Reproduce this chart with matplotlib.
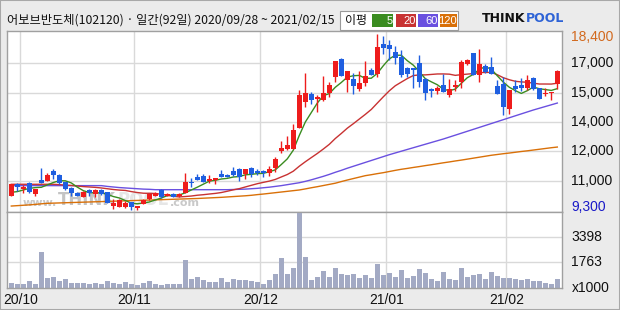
import numpy as np
import pandas as pd
import matplotlib
matplotlib.use('Agg')
import matplotlib.pyplot as plt
from matplotlib.patches import Rectangle
import matplotlib.transforms as mtransforms
import logging
logging.getLogger('matplotlib.font_manager').setLevel(logging.ERROR)

# ---------------- data ----------------
title = '어보브반도체(102120) · 일간(92일) 2020/09/28 ~ 2021/02/15'
krx_holidays = ['2020-09-30', '2020-10-01', '2020-10-02', '2020-10-09', '2020-12-25',
                '2020-12-31', '2021-01-01', '2021-02-11', '2021-02-12']
dates = [d for d in pd.bdate_range('2020-09-28', '2021-02-15')
         if d.strftime('%Y-%m-%d') not in krx_holidays]

opens = [10040, 10630, 10370, 10680, 10128, 10852, 10816, 11317, 11110, 10764,
         10455, 10195, 9990, 10335, 10128, 10335, 10216, 9524, 9472, 9472,
         9700, 9390, 9596, 9870, 10040, 10335, 10025, 10128, 10025, 10164,
         10764, 11022, 11074, 10800, 10852, 11145, 11126, 11333, 11405, 11145,
         11488, 11317, 11333, 11230, 11488, 12367, 12455, 12455, 13525, 14900,
         15298, 15055, 14988, 15365, 16192, 17090, 16022, 16074, 15557, 15851,
         16539, 16316, 17883, 17831, 17470, 17211, 16627, 16627, 16885, 16089,
         15541, 15453, 15763, 15246, 15660, 15934, 16865, 17402, 16265, 16746,
         16694, 15712, 15831, 14507, 15712, 15763, 15624, 16141, 15593, 15282,
         15350, 15800]
highs = [10630, 10710, 10593, 10764, 10387, 11488, 11229, 11420, 11177, 10764,
         10506, 10250, 10283, 10387, 10387, 10387, 10250, 9854, 9870, 9750,
         9700, 9524, 9870, 10164, 10250, 10387, 10164, 10164, 10164, 11198,
         10940, 11162, 11160, 11110, 10971, 11369, 11177, 11540, 11457, 11420,
         11540, 11420, 11370, 11576, 12057, 12868, 13127, 13731, 15505, 16399,
         15417, 15246, 16229, 15934, 17004, 17175, 16487, 16368, 16487, 17004,
         16658, 18400, 18312, 18090, 17800, 17573, 16694, 16660, 17314, 16120,
         15593, 15712, 16347, 16058, 16006, 17040, 17092, 17433, 17609, 16865,
         17211, 16022, 16177, 15505, 16022, 16110, 16280, 16192, 15593, 15593,
         15400, 16539]
lows = [10040, 10300, 10195, 10195, 10040, 10713, 10816, 10904, 10645, 10335,
        10040, 10040, 9990, 10040, 9955, 10075, 9647, 9353, 9472, 9390,
        9300, 9300, 9596, 9818, 10040, 9904, 10025, 9990, 9990, 10164,
        10506, 10852, 10764, 10713, 10645, 11022, 10990, 11074, 10816, 10904,
        11022, 11130, 10990, 11074, 11281, 12263, 12400, 12455, 13525, 14641,
        14781, 14383, 14950, 15158, 15934, 16229, 15417, 15282, 15453, 15712,
        16280, 16192, 17366, 17056, 16870, 16192, 16177, 15623, 15675, 14988,
        15143, 15282, 15401, 15158, 15453, 15593, 16782, 16265, 15934, 16368,
        16347, 15282, 14212, 14249, 15401, 15453, 15505, 15490, 15055, 15195,
        14972, 15541]
closes = [10630, 10510, 10510, 10250, 10387, 10713, 11126, 11126, 10713, 10370,
          10164, 10040, 10216, 10195, 10335, 10128, 9680, 9647, 9818, 9680,
          9440, 9524, 9818, 10113, 10195, 9955, 10128, 9990, 10113, 10764,
          10680, 10852, 10764, 10904, 10971, 11022, 11022, 11110, 11022, 11420,
          11145, 11198, 11198, 11420, 11922, 12522, 12661, 13437, 15246, 15365,
          14988, 15107, 15365, 15763, 17004, 16229, 16487, 15727, 15851, 16229,
          16280, 17743, 17692, 17625, 17175, 16265, 16347, 16539, 15934, 15365,
          15453, 15593, 15401, 15541, 15763, 16953, 17040, 16265, 16833, 16436,
          16347, 15314, 14626, 15505, 15572, 15624, 16022, 15572, 15055, 15365,
          15400, 16487]
volumes = [412, 347, 347, 564, 347, 2461, 739, 804, 564, 674,
           434, 434, 434, 368, 412, 368, 564, 412, 368, 477,
           347, 303, 412, 564, 368, 281, 368, 368, 368, 1938,
           674, 804, 608, 499, 499, 739, 499, 674, 608, 608,
           543, 499, 368, 608, 1022, 2047, 1022, 1393, 4925, 2112,
           608, 826, 1218, 826, 1393, 1022, 957, 1022, 739, 957,
           739, 1676, 957, 1088, 826, 1262, 739, 870, 1328, 1088,
           674, 564, 1153, 674, 608, 1393, 826, 957, 1022, 674,
           1153, 870, 761, 761, 674, 630, 674, 564, 543, 434,
           368, 695]
ma5_head = [10216, 10250, 10335, 10420]
ma20_head = [10630, 10630, 10630, 10630, 10630, 10630, 10630, 10630, 10610, 10590,
             10570, 10540, 10510, 10490, 10470, 10440, 10400, 10360, 10330]
ma60 = [10560, 10560, 10560, 10560, 10560, 10560, 10560, 10560, 10560, 10560,
        10560, 10560, 10560, 10560, 10560, 10560, 10520, 10490, 10460, 10440,
        10420, 10400, 10380, 10370, 10350, 10350, 10350, 10350, 10350, 10350,
        10350, 10350, 10350, 10350, 10350, 10350, 10350, 10360, 10370, 10380,
        10400, 10420, 10450, 10480, 10520, 10560, 10610, 10660, 10710, 10780,
        10860, 10950, 11040, 11140, 11250, 11350, 11460, 11560, 11660, 11760,
        11860, 11960, 12060, 12160, 12250, 12340, 12430, 12520, 12610, 12700,
        12790, 12880, 12970, 13070, 13170, 13270, 13370, 13470, 13570, 13670,
        13770, 13870, 13970, 14070, 14170, 14270, 14370, 14470, 14560, 14650,
        14740, 14830]
ma120 = [9505, 9525, 9545, 9565, 9590, 9620, 9645, 9655, 9665, 9675,
         9685, 9695, 9705, 9715, 9725, 9735, 9745, 9755, 9765, 9775,
         9785, 9795, 9805, 9815, 9825, 9835, 9845, 9855, 9865, 9875,
         9885, 9895, 9910, 9925, 9940, 9955, 9975, 9995, 10015, 10035,
         10060, 10095, 10125, 10160, 10195, 10230, 10265, 10300, 10335, 10390,
         10450, 10505, 10565, 10625, 10685, 10770, 10850, 10925, 11000, 11075,
         11125, 11180, 11230, 11290, 11350, 11405, 11450, 11500, 11545, 11595,
         11640, 11690, 11740, 11785, 11835, 11880, 11930, 11980, 12030, 12080,
         12130, 12170, 12210, 12245, 12285, 12325, 12360, 12400, 12440, 12480,
         12520, 12555]
vol_tick_values = [1763, 3398]
legend_labels = ['5', '20', '60', '120']

# ---------------- derived ----------------
n = len(closes)
idx = np.arange(n)
c = np.array(closes, float)
ma5 = np.array(ma5_head + [c[i - 4:i + 1].mean() for i in range(4, n)])
ma20 = np.array(ma20_head + [c[i - 19:i + 1].mean() for i in range(19, n)])

month_pos, month_lab = [], []
for i, d in enumerate(dates):
    if i > 0 and d.month != dates[i - 1].month:
        month_pos.append(i - 0.5)
        month_lab.append(d.strftime('%y/%m'))

# ---------------- style ----------------
W, H = 620, 310
RED = '#EE1C1C'
BLUE = '#1F5FE0'
GRID = '#D9D9D9'
SPINE = '#A0A0A0'
MA_COLORS = ['#3A8C20', '#C83232', '#6A50E0', '#D97008']
NUMFONT = ['Liberation Sans Narrow', 'DejaVu Sans Condensed', 'Liberation Sans', 'DejaVu Sans']
KFONT = ['Noto Sans CJK KR', 'DejaVu Sans']

fig = plt.figure(figsize=(W / 100, H / 100), dpi=100)
fig.patch.set_facecolor('#EBEBEB')

def px_box(x0, y0, x1, y1):
    return [x0 / W, 1 - y1 / H, (x1 - x0) / W, (y1 - y0) / H]

ax = fig.add_axes(px_box(7, 31, 562, 212))
axv = fig.add_axes(px_box(7, 212, 562, 288), sharex=ax)

xmin, xmax = -0.717, 91.783
pmax, pmin = max(highs), min(lows)
ppx = (pmax - pmin) / 176.0
ax.set_xlim(xmin, xmax)
ax.set_ylim(pmin - 2 * ppx, pmax + 3 * ppx)

for a in (ax, axv):
    a.set_facecolor('white')
    for s in a.spines.values():
        s.set_color(SPINE)
        s.set_linewidth(1.0)
    a.tick_params(left=False, right=False, bottom=False, top=False,
                  labelleft=False, labelbottom=False)
    a.set_axisbelow(True)
    for xp in month_pos:
        a.axvline(xp, color=GRID, lw=1.0, zorder=0.5)

# price gridlines & labels
grid_vals = np.linspace(pmin, pmax, 7)[1:-1]
for gv in grid_vals:
    ax.axhline(gv, color=GRID, lw=1.0, zorder=0.5)
trans_r = mtransforms.blended_transform_factory(ax.transAxes, ax.transData)
lab_x = 1 + 9.5 / 555
for gv in grid_vals:
    ax.text(lab_x, gv, f'{int(round(gv / 1000.0) * 1000):,}', transform=trans_r,
            ha='left', va='center', fontsize=10, family=NUMFONT, color='#111111',
            clip_on=False)
ax.text(lab_x, pmax - 3.3 * ppx, f'{pmax:,}', transform=trans_r, ha='left', va='center',
        fontsize=10, family=NUMFONT, color='#D2691E', clip_on=False)
ax.text(lab_x, pmin + 3.3 * ppx, f'{pmin:,}', transform=trans_r, ha='left', va='center',
        fontsize=10, family=NUMFONT, color='#1A1AC8', clip_on=False)

# watermark (chained pieces, no overlap)
wm1 = ax.text(0.028, 0.035, 'www.', transform=ax.transAxes, fontsize=8, color='#C9C9C9',
              fontweight='bold', family='DejaVu Sans', zorder=1)
wm2 = ax.annotate('THINK', xy=(1, 0), xycoords=wm1, xytext=(1, -1), textcoords='offset points',
                  ha='left', va='bottom', fontsize=12, color='#C4C4C4', fontweight='bold',
                  family='DejaVu Sans', zorder=1, annotation_clip=False)
wm3 = ax.annotate('POOL', xy=(1, 0), xycoords=wm2, xytext=(1, 0), textcoords='offset points',
                  ha='left', va='bottom', fontsize=12, color='#E6E6E6', fontweight='bold',
                  family='DejaVu Sans', zorder=1, annotation_clip=False)
ax.annotate('.com', xy=(1, 0), xycoords=wm3, xytext=(1, 1), textcoords='offset points',
            ha='left', va='bottom', fontsize=8, color='#C9C9C9', fontweight='bold',
            family='DejaVu Sans', zorder=1, annotation_clip=False)

# moving averages
for m, col in zip([ma120, ma60, ma20, ma5], MA_COLORS[::-1]):
    ax.plot(idx, m, color=col, lw=1.0, zorder=2)

# candles
o = np.array(opens, float)
hi = np.array(highs, float)
lo = np.array(lows, float)
up = c >= o
colors = np.where(up, RED, BLUE)
ax.vlines(idx, lo, hi, colors=colors, lw=1.0, zorder=3)
bottoms = np.minimum(o, c)
heights = np.maximum(np.abs(c - o), ppx * 1.2)
ax.bar(idx, heights, bottom=bottoms, width=0.78, color=colors, edgecolor='none',
       linewidth=0, zorder=4)

# volume
vpx = 65.4
axv.set_ylim(1.3 * vpx, 77.3 * vpx)
for tv in vol_tick_values:
    axv.axhline(tv, color=GRID, lw=1.0, zorder=0.5)
axv.bar(idx, volumes, width=0.78, color='#A3AAC4', edgecolor='none', zorder=2)
trans_v = mtransforms.blended_transform_factory(axv.transAxes, axv.transData)
for tv in vol_tick_values:
    axv.text(lab_x, tv, str(tv), transform=trans_v, ha='left', va='center',
             fontsize=10, family=NUMFONT, color='#111111', clip_on=False)
axv.text(lab_x, 1.3 * vpx, 'x1000', transform=trans_v, ha='left', va='center',
         fontsize=10, family=NUMFONT, color='#111111', clip_on=False)

# month labels
trans_x = mtransforms.blended_transform_factory(axv.transData, fig.transFigure)
for xp, lab in zip(month_pos, month_lab):
    fig.text(xp, 1 - 300 / H, lab, transform=trans_x, ha='center', va='center',
             fontsize=10, family=NUMFONT, color='#111111')

# small scroll handle
fig.patches.append(Rectangle((297 / W, 1 - 219 / H), 5 / W, 6 / H, transform=fig.transFigure,
                             facecolor='#A3AAC4', edgecolor='none'))

# title
fig.text(7 / W, 1 - 20 / H, title, ha='left', va='center', fontsize=8.8,
         family=KFONT, color='#111111')

# legend box
fig.patches.append(Rectangle((340 / W, 1 - 30 / H), 118 / W, 19 / H, transform=fig.transFigure,
                             facecolor='white', edgecolor='#9A9A9A', lw=0.8))
fig.text(345 / W, 1 - 20.5 / H, '이평', ha='left', va='center', fontsize=8.6,
         family=KFONT, color='#111111')
boxes = [(372, 393), (396, 416), (418, 438), (440, 457)]
for (x0, x1), lab, col in zip(boxes, legend_labels, MA_COLORS):
    fig.patches.append(Rectangle((x0 / W, 1 - 27 / H), (x1 - x0) / W, 13 / H,
                                 transform=fig.transFigure, facecolor=col, edgecolor='none'))
    fig.text((x1 - 0.5) / W, 1 - 20.5 / H, lab, ha='right', va='center', fontsize=8,
             family=NUMFONT, color='white')

# logo
logo1 = fig.text(482 / W, 1 - 19 / H, 'THINK', ha='left', va='center', fontsize=9,
                 fontweight='heavy', family='DejaVu Sans', color='#111111')
fig.add_artist(matplotlib.text.Annotation('POOL', xy=(1, 0.5), xycoords=logo1,
                                          xytext=(0.5, 0), textcoords='offset points',
                                          ha='left', va='center', fontsize=9,
                                          fontweight='heavy', family='DejaVu Sans',
                                          color='#2E63D6'))

# outer frame
fig.patches.append(Rectangle((0, 0), 1, 1, transform=fig.transFigure, facecolor='none',
                             edgecolor='#A8A8A8', lw=1.5))

fig.savefig('out.png', dpi=100, facecolor=fig.get_facecolor())
